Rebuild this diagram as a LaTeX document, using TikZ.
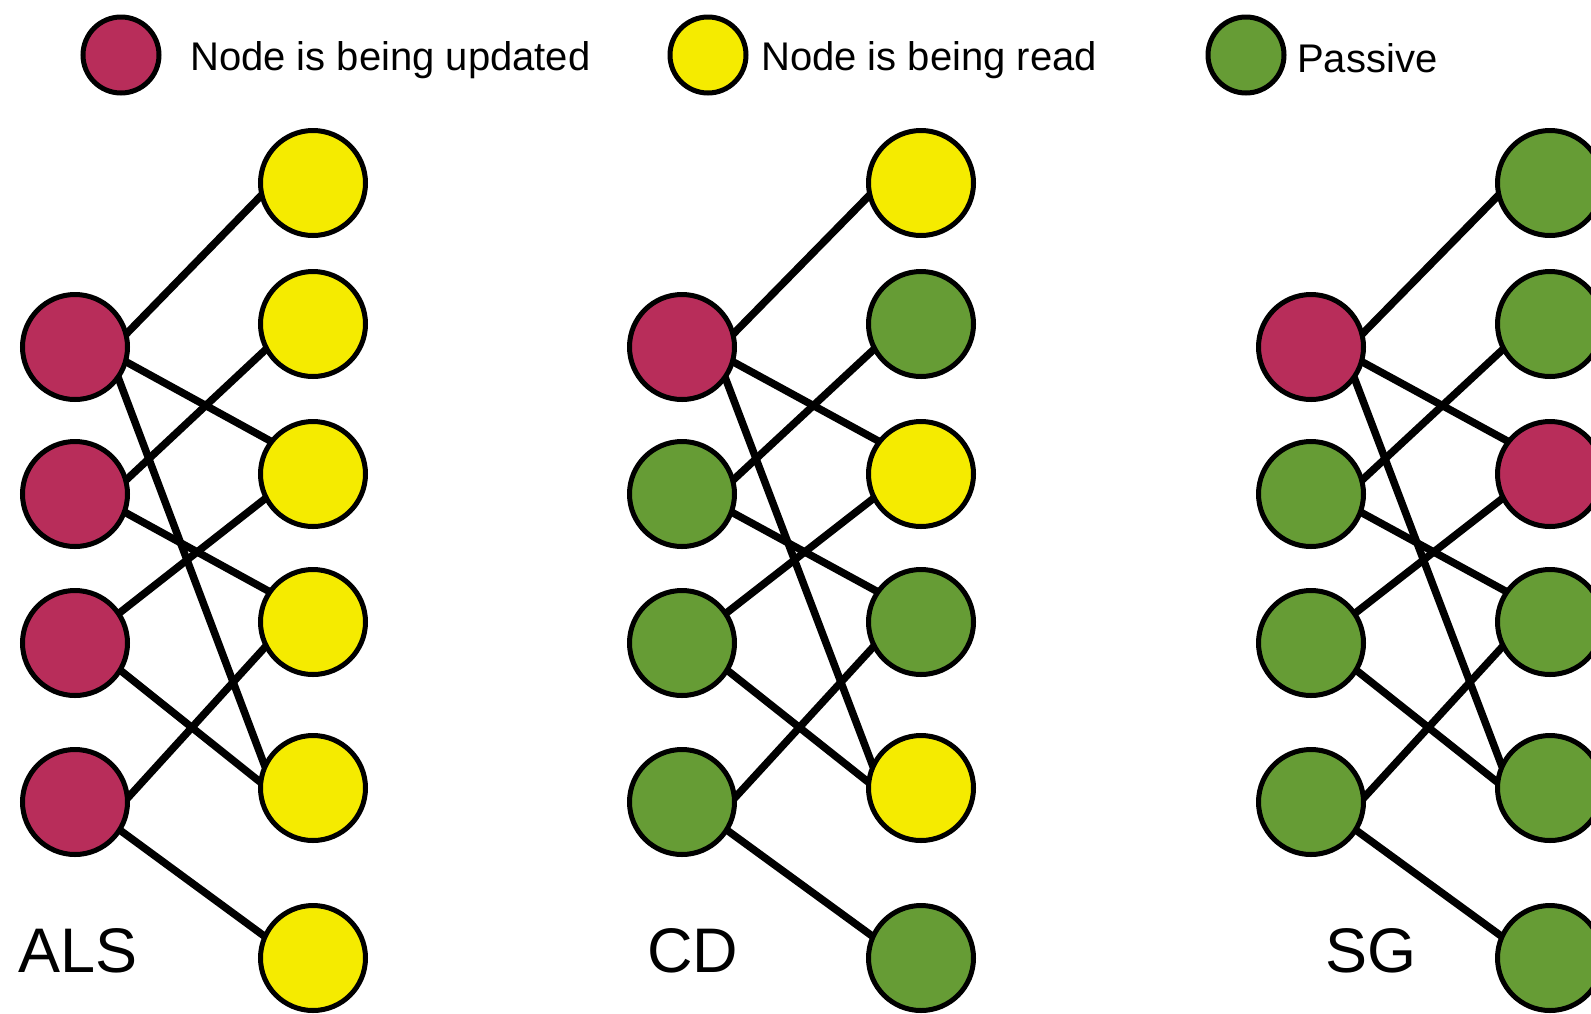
\documentclass[tikz,border=0pt]{standalone}
\usepackage{fontspec}
\setmainfont{Liberation Sans}
\usepackage{tikz}
\definecolor{updred}{HTML}{B82D5A}
\definecolor{readyel}{HTML}{F5EB00}
\definecolor{passgrn}{HTML}{669C35}
\usetikzlibrary{backgrounds}
\tikzset{
	vtx/.style={circle, draw=black, line width=5pt, minimum size=105pt,
		inner sep=0pt, outer sep=0pt},
	lgnd/.style={vtx, minimum size=76pt},
	upd/.style={fill=updred},
	rd/.style={fill=readyel},
	pas/.style={fill=passgrn},
	ltext/.style={anchor=base west, inner sep=0pt, font=\fontsize{40}{40}\selectfont},
	algname/.style={anchor=base west, inner sep=0pt, font=\fontsize{63}{63}\selectfont},
	lnk/.style={line width=7.5pt, draw=black}
}

\begin{document}
\begin{tikzpicture}[x=1pt, y=-1pt]
	\useasboundingbox (0,0) rectangle (1591,1013);
	% legend
	\node[lgnd, upd] (kupd) at (121,55) {};
	\node[ltext] (tupd) at (190,70) {Node is being updated};
	\node[lgnd, rd] (krd) at (708,55) {};
	\node[ltext] (trd) at (761,70) {Node is being read};
	\node[lgnd, pas] (kpas) at (1246,55) {};
	\node[ltext] (tpas) at (1297,72) {Passive};
	% ALS
	\node[vtx, upd] (als-l1) at (75,347) {};
	\node[vtx, upd] (als-l2) at (75,494) {};
	\node[vtx, upd] (als-l3) at (75,643) {};
	\node[vtx, upd] (als-l4) at (75,802) {};
	\node[vtx, rd] (als-r1) at (313,183) {};
	\node[vtx, rd] (als-r2) at (313,324) {};
	\node[vtx, rd] (als-r3) at (313,474) {};
	\node[vtx, rd] (als-r4) at (313,622) {};
	\node[vtx, rd] (als-r5) at (313,788) {};
	\node[vtx, rd] (als-r6) at (313,958) {};
	\node[algname] (als) at (18,972) {ALS};
	% CD
	\node[vtx, upd] (cd-l1) at (682,347) {};
	\node[vtx, pas] (cd-l2) at (682,494) {};
	\node[vtx, pas] (cd-l3) at (682,643) {};
	\node[vtx, pas] (cd-l4) at (682,802) {};
	\node[vtx, rd] (cd-r1) at (921,183) {};
	\node[vtx, pas] (cd-r2) at (921,324) {};
	\node[vtx, rd] (cd-r3) at (921,474) {};
	\node[vtx, pas] (cd-r4) at (921,622) {};
	\node[vtx, rd] (cd-r5) at (921,788) {};
	\node[vtx, pas] (cd-r6) at (921,958) {};
	\node[algname] (cd) at (647,972) {CD};
	% SG
	\node[vtx, upd] (sg-l1) at (1311,347) {};
	\node[vtx, pas] (sg-l2) at (1311,494) {};
	\node[vtx, pas] (sg-l3) at (1311,643) {};
	\node[vtx, pas] (sg-l4) at (1311,802) {};
	\node[vtx, pas] (sg-r1) at (1550,183) {};
	\node[vtx, pas] (sg-r2) at (1550,324) {};
	\node[vtx, upd] (sg-r3) at (1550,474) {};
	\node[vtx, pas] (sg-r4) at (1550,622) {};
	\node[vtx, pas] (sg-r5) at (1550,788) {};
	\node[vtx, pas] (sg-r6) at (1550,958) {};
	\node[algname] (sg) at (1325,972) {SG};
	% links, same in every panel
	\begin{scope}[on background layer]
		\foreach \p in {als,cd,sg} {
			\draw[lnk] (\p-l1.14) -- (\p-r1.193);
			\draw[lnk] (\p-l1.-16) -- (\p-r3.142);
			\draw[lnk] (\p-l1.-35) -- (\p-r5.156);
			\draw[lnk] (\p-l2.15) -- (\p-r2.208);
			\draw[lnk] (\p-l2.-20) -- (\p-r4.145);
			\draw[lnk] (\p-l3.34) -- (\p-r3.207);
			\draw[lnk] (\p-l3.-31) -- (\p-r5.174);
			\draw[lnk] (\p-l4.4) -- (\p-r4.207);
			\draw[lnk] (\p-l4.-32) -- (\p-r6.156);
		}
	\end{scope}
\end{tikzpicture}
\end{document}
